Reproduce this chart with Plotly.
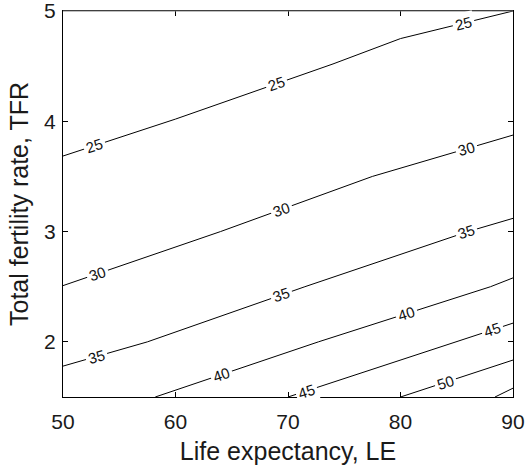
import math
import plotly.graph_objects as go

# Contour levels and their traced lines (LE, TFR)
levels = [25, 30, 35, 40, 45, 50, 55]
line_le = {
    25: [50, 60, 74, 80, 90],
    30: [50, 64, 77.5, 90],
    35: [50, 57.5, 71.5, 86, 90],
    40: [58.2, 72.7, 88, 90],
    45: [70, 85, 90],
    50: [80, 90],
    55: [88.4, 90],
}
line_tfr = {
    25: [3.685, 4.02, 4.52, 4.75, 5.0],
    30: [2.51, 3.0, 3.5, 3.875],
    35: [1.78, 2.0, 2.5, 3.0, 3.12],
    40: [1.5, 2.0, 2.5, 2.58],
    45: [1.5, 2.0, 2.17],
    50: [1.5, 1.835],
    55: [1.5, 1.58],
}
# Label positions (LE) along each contour
label_le = {
    25: [52.8, 69.0, 85.6],
    30: [53.1, 69.4, 85.9],
    35: [53.0, 69.4, 85.9],
    40: [64.1, 80.5],
    45: [71.6, 88.2],
    50: [84.0],
    55: [],
}

x_range = [50, 90]
y_range = [1.5, 5]
x_ticks = [50, 60, 70, 80, 90]
y_ticks = [2, 3, 4, 5]

W, H = 530, 466
ML, MR, MT, MB = 63, 17, 11, 69
pw, ph = W - ML - MR, H - MT - MB
sx = pw / (x_range[1] - x_range[0])
sy = ph / (y_range[1] - y_range[0])


def interp(xs, ys, x):
    for i in range(len(xs) - 1):
        if xs[i] <= x <= xs[i + 1]:
            t = (x - xs[i]) / (xs[i + 1] - xs[i])
            slope = (ys[i + 1] - ys[i]) / (xs[i + 1] - xs[i])
            return ys[i] + t * (ys[i + 1] - ys[i]), slope
    slope = (ys[-1] - ys[-2]) / (xs[-1] - xs[-2])
    return ys[-1], slope


fig = go.Figure()
annotations = []
for lv in levels:
    fig.add_trace(go.Scatter(
        x=line_le[lv], y=line_tfr[lv], mode="lines",
        line=dict(color="black", width=1), showlegend=False, hoverinfo="skip",
    ))
    for lx in label_le[lv]:
        ly, slope = interp(line_le[lv], line_tfr[lv], lx)
        ang = -math.degrees(math.atan(slope * sy / sx))
        annotations.append(dict(
            x=lx, y=ly, text=str(lv), showarrow=False, textangle=ang,
            font=dict(family="Liberation Sans, Arial, sans-serif", size=15, color="#111111"),
            bgcolor="white", borderpad=2, xref="x", yref="y",
        ))

fig.update_layout(
    width=W, height=H,
    margin=dict(l=ML, r=MR, t=MT, b=MB),
    paper_bgcolor="white", plot_bgcolor="white",
    font=dict(family="Liberation Sans, Arial, sans-serif", size=21, color="#1a1a1a"),
    annotations=annotations,
    xaxis=dict(
        range=x_range, tickvals=x_ticks, ticks="inside", ticklen=5, tickcolor="black",
        showline=True, linecolor="black", linewidth=1, mirror="ticks",
        showgrid=False, zeroline=False, ticklabelstandoff=6, automargin=False,
        ticklabeloverflow="allow",
        title=dict(text="Life expectancy, LE", standoff=10),
    ),
    yaxis=dict(
        range=y_range, tickvals=y_ticks, ticks="inside", ticklen=5, tickcolor="black",
        showline=True, linecolor="black", linewidth=1, mirror="ticks",
        showgrid=False, zeroline=False, ticklabelstandoff=2, automargin=False,
        ticklabeloverflow="allow",
        title=dict(text="Total fertility rate, TFR", standoff=8),
    ),
    shapes=[dict(type="line", xref="paper", yref="paper", x0=0, x1=1, y0=1, y1=1,
                 line=dict(color="#808080", width=1), layer="above")],
)

fig.write_html("out.html")
